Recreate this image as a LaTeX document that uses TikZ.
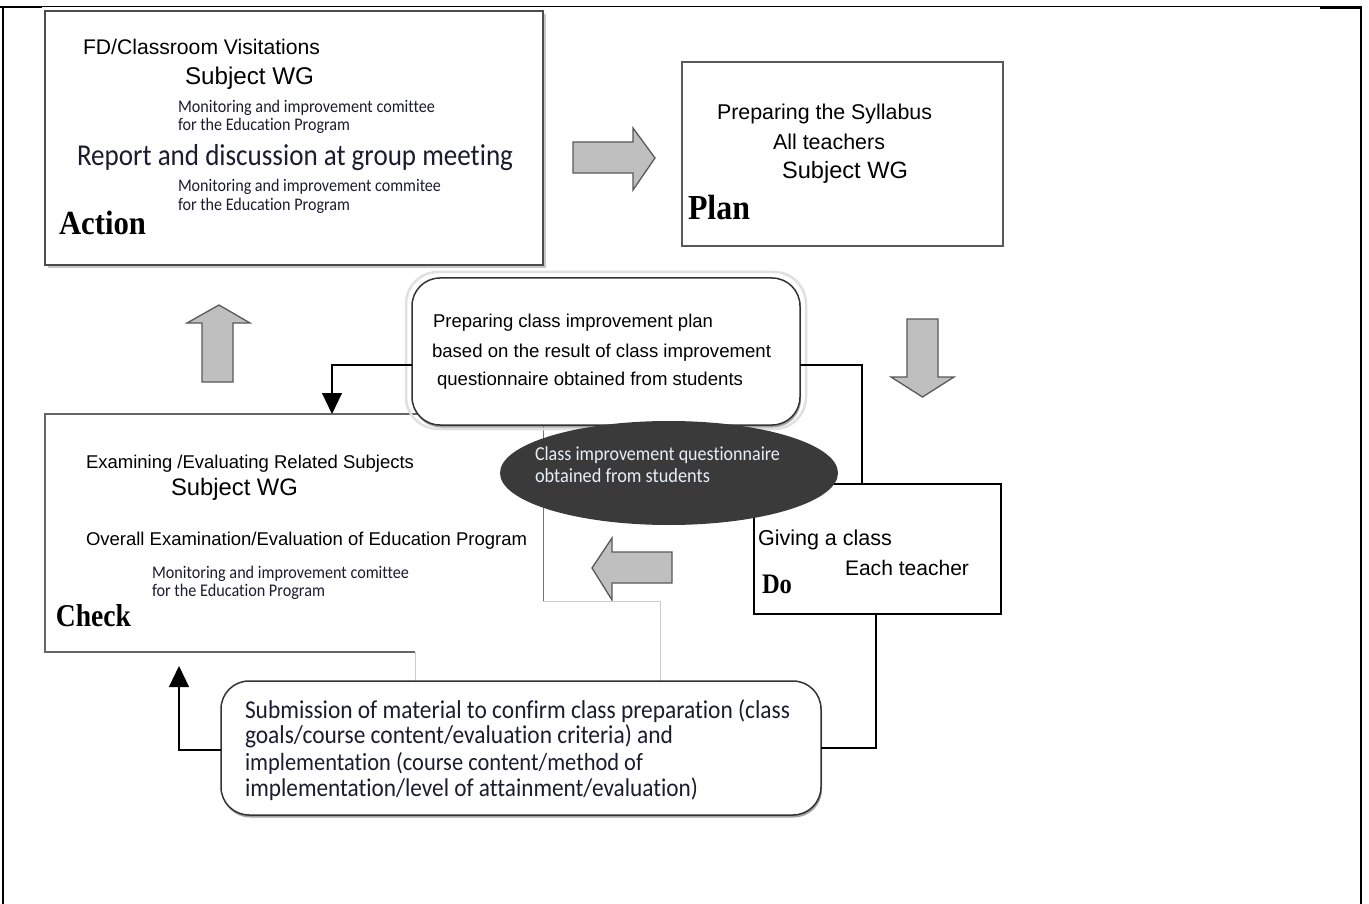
\documentclass[tikz,border=0pt]{standalone}
\usepackage{fontspec}
\newfontfamily\arialf{Liberation Sans}
\newfontfamily\calf[Ligatures=NoCommon]{Carlito}
\newfontfamily\serf{Liberation Serif}
\usetikzlibrary{arrows.meta,shapes.geometric,shadows}
\newcommand\ft[3][1]{\resizebox{#2pt}{!}{\scalebox{1}[#1]{#3}}}
\definecolor{navyt}{HTML}{1C1C30}
\definecolor{elfill}{HTML}{3A3A3A}
\definecolor{eltext}{HTML}{E6EEF8}
\begin{document}
\begin{tikzpicture}[x=1pt,y=-1pt,
  txt/.style={anchor=base west, inner sep=0pt, outer sep=0pt},
  boxbase/.style={anchor=north west, inner sep=0pt, outer sep=0pt},
  blk/.style={fill=black!25, draw=black!65, line width=1.3pt, line join=miter},
  conn/.style={line width=1.2pt, draw=black},
  tipu/.style={-{Triangle[width=20pt,length=21pt]}},
  rbox/.style={boxbase, draw=black!80, line width=1.5pt, fill=white, rounded corners=28pt,
    drop shadow={shadow xshift=1pt, shadow yshift=-2.5pt, fill=black!45, opacity=0.8}},
  faint/.style={draw=black!20, line width=1pt},
]
\useasboundingbox (0,0) rectangle (1369,904);
\fill[white] (0,0) rectangle (1369,904);

% outer frame
\draw[line width=1pt] (0,7) -- (1362,7);
\draw[line width=2pt] (0,7) -- (42,7);
\draw[line width=2pt] (1320,8) -- (1361,8) -- (1361,904);
\draw[line width=1.5pt] (3,7) -- (3,904);

% ---------- Action box
\fill[black!22] (48,14) rectangle (546,268);
\node[boxbase, draw=black!70, line width=2pt, fill=white, minimum width=498pt, minimum height=254pt] (action) at (45,11) {};
\node[txt] (a1) at (83,55) {\ft{237}{\arialf FD/Classroom Visitations}};
\node[txt] (a2) at (185,85) {\ft{129}{\arialf Subject WG}};
\node[txt, text=navyt] (a3) at (178,113) {\ft[1.1]{257}{\calf Monitoring and improvement comittee}};
\node[txt, text=navyt] (a4) at (178,131) {\ft[1.1]{172}{\calf for the Education Program}};
\node[txt, text=navyt] (a5) at (77,166) {\ft[1.12]{436}{\calf Report and discussion at group meeting}};
\node[txt, text=navyt] (a6) at (178,192) {\ft[1.1]{263}{\calf Monitoring and improvement commitee}};
\node[txt, text=navyt] (a7) at (178,211) {\ft[1.1]{172}{\calf for the Education Program}};
\node[txt] (a8) at (59,235) {\ft[1.1]{87}{\serf\bfseries Action}};

% ---------- Plan box
\node[boxbase, draw=black!65, line width=2pt, fill=white, minimum width=321pt, minimum height=184pt] (plan) at (682,62) {};
\node[txt] (p1) at (717,120) {\ft{215}{\arialf Preparing the Syllabus}};
\node[txt] (p2) at (773,150) {\ft{112}{\arialf All teachers}};
\node[txt] (p3) at (782,179) {\ft{126}{\arialf Subject WG}};
\node[txt] (p4) at (688,220) {\ft[1.1]{62}{\serf\bfseries Plan}};

% block arrows
\draw[blk] (573,142) -- (633,142) -- (633,128) -- (655,158) -- (633,190) -- (633,173) -- (573,173) -- cycle;
\draw[blk] (907,319) -- (938,319) -- (938,377) -- (954,377) -- (922.5,397) -- (891,377) -- (907,377) -- cycle;
\draw[blk] (672,552) -- (612,552) -- (612,538) -- (592,568) -- (612,600) -- (612,583) -- (672,583) -- cycle;
\draw[blk] (202,382) -- (202,323) -- (187,323) -- (219,305) -- (250,323) -- (233,323) -- (233,382) -- cycle;

% ---------- Check box
\node[boxbase, minimum width=498pt, minimum height=238pt] (check) at (45,414) {};
\coordinate (kb) at (415,652);
\coordinate (kr) at (543,601);
\draw[draw=black!60, line width=2pt] (check.north east) -- (check.north west) -- (check.south west) -- (kb);
\draw[draw=black!55, line width=1pt] (check.north east) -- (kr);
\coordinate (w1) at (660,601);
\coordinate (w2) at (660,682);
\coordinate (w3) at (415,682);
\draw[faint] (kr) -- (w1) -- (w2);
\draw[faint] (kb) -- (w3);
\node[txt] (k1) at (86,468) {\ft{328}{\arialf Examining /Evaluating Related Subjects}};
\node[txt] (k2) at (171,495.7) {\ft{127}{\arialf Subject WG}};
\node[txt] (k3) at (86,545.7) {\ft{441}{\arialf Overall Examination/Evaluation of Education Program}};
\node[txt, text=navyt] (k4) at (152,578) {\ft[1.1]{257}{\calf Monitoring and improvement comittee}};
\node[txt, text=navyt] (k5) at (152,596) {\ft[1.1]{173}{\calf for the Education Program}};
\node[txt] (k6) at (56,626.7) {\ft[1.15]{75}{\serf\bfseries Check}};

% ---------- Do box
\node[boxbase, draw=black, line width=1.3pt, fill=white, minimum width=247pt, minimum height=130pt] (do) at (754,484) {};
\node[txt] (d1) at (758,545) {\ft{134}{\arialf Giving a class}};
\node[txt] (d2) at (845,575) {\ft{124}{\arialf Each teacher}};
\node[txt] (d3) at (762,593) {\ft[1.15]{30}{\serf\bfseries Do}};

% ---------- middle rounded box
\draw[draw=black!12, line width=2.5pt, rounded corners=32pt] (406,272) rectangle (806,429);
\node[rbox, minimum width=388pt, minimum height=147pt] (mid) at (412,278) {};
\node[txt] (m1) at (433,327) {\ft{280}{\arialf Preparing class improvement plan}};
\node[txt] (m2) at (432,357) {\ft{339}{\arialf based on the result of class improvement}};
\node[txt] (m3) at (437,385) {\ft{306}{\arialf questionnaire obtained from students}};

% connectors from middle box
\coordinate (c1) at (332,365);
\coordinate (c2) at (862,365);
\draw[conn, tipu] (mid.west |- c1) -- (c1) -- (c1 |- check.north);
\draw[conn] (mid.east |- c2) -- (c2) -- (c2 |- do.north);

% ---------- ellipse
\node[ellipse, fill=elfill, minimum width=338pt, minimum height=104pt, inner sep=0pt] (q) at (669,473) {};
\node[txt, text=eltext] (e1) at (535,460) {\ft[1.1]{245}{\calf Class improvement questionnaire}};
\node[txt, text=eltext] (e2) at (535,482) {\ft[1.1]{175}{\calf obtained from students}};

% ---------- bottom rounded box
\node[rbox, minimum width=600pt, minimum height=134pt] (sub) at (221,681) {};
\node[txt, text=navyt] (b1) at (245,718) {\ft[1.1]{545}{\calf Submission of material to confirm class preparation (class}};
\node[txt, text=navyt] (b2) at (245,743) {\ft[1.1]{428}{\calf goals/course content/evaluation criteria) and}};
\node[txt, text=navyt] (b3) at (245,770) {\ft[1.1]{398}{\calf implementation (course content/method of}};
\node[txt, text=navyt] (b4) at (245,796) {\ft[1.1]{453}{\calf implementation/level of attainment/evaluation)}};

\coordinate (c3) at (876,748);
\coordinate (c4) at (179,750);
\coordinate (c5) at (179,666);
\draw[conn] (c3 |- do.south) -- (c3) -- (sub.east |- c3);
\draw[conn, tipu] (sub.west |- c4) -- (c4) -- (c5);
\end{tikzpicture}
\end{document}
